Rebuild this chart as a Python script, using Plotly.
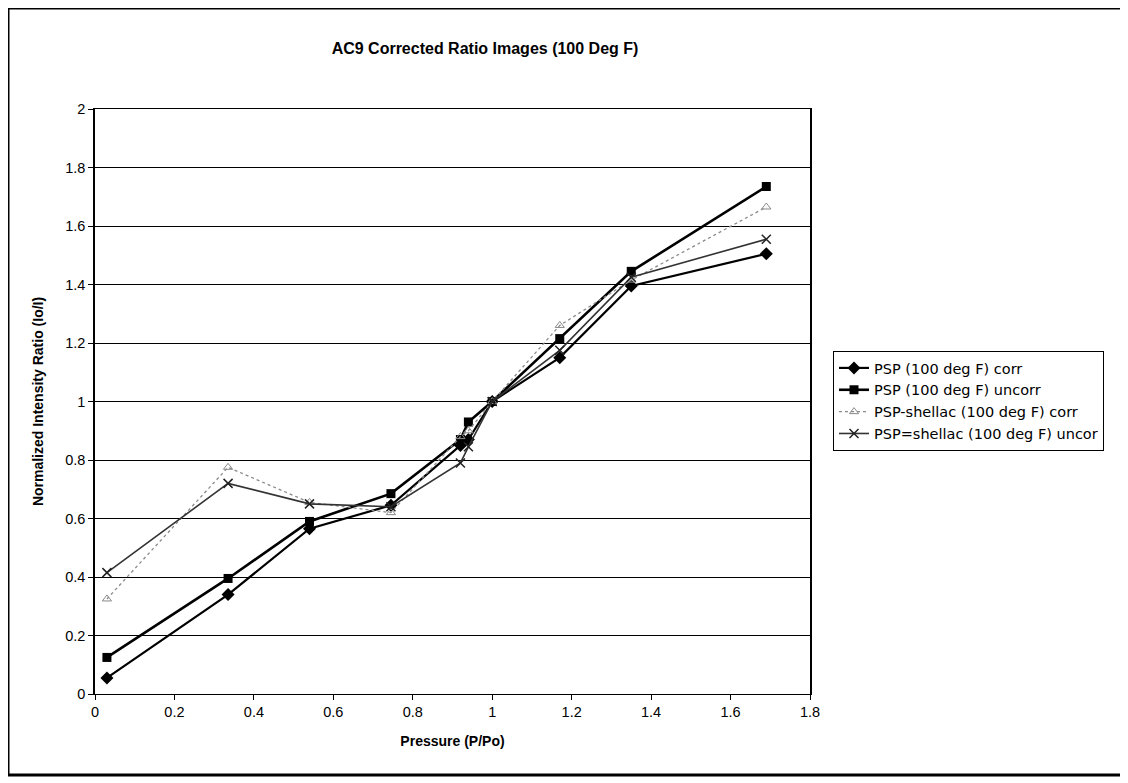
import plotly.graph_objects as go

pressure = [0.03, 0.335, 0.54, 0.745, 0.92, 0.94, 1.0, 1.17, 1.35, 1.69]
psp_corr = [0.055, 0.34, 0.565, 0.645, 0.85, 0.87, 1.0, 1.15, 1.395, 1.505]
psp_uncorr = [0.125, 0.395, 0.59, 0.685, 0.87, 0.93, 1.0, 1.215, 1.445, 1.735]
shellac_corr = [0.325, 0.775, 0.655, 0.62, 0.88, 0.9, 1.0, 1.26, 1.415, 1.665]
shellac_uncor = [0.415, 0.72, 0.65, 0.64, 0.79, 0.845, 1.0, 1.175, 1.425, 1.555]
x_ticks = [0, 0.2, 0.4, 0.6, 0.8, 1, 1.2, 1.4, 1.6, 1.8]
y_ticks = [0, 0.2, 0.4, 0.6, 0.8, 1, 1.2, 1.4, 1.6, 1.8, 2]

FONT = "Liberation Sans, Arial, sans-serif"
OFF = 8  # page body margin
W, H = 1128 - OFF, 783 - OFF
# plot area in page pixels
L, R, T, B = 95, 810, 109, 694

fig = go.Figure()
fig.add_trace(go.Scatter(x=pressure, y=psp_corr, name="PSP (100 deg F) corr", mode="lines+markers",
                         line=dict(color="black", width=2.2),
                         marker=dict(symbol="diamond", size=10, color="black")))
fig.add_trace(go.Scatter(x=pressure, y=psp_uncorr, name="PSP (100 deg F) uncorr", mode="lines+markers",
                         line=dict(color="black", width=2.6),
                         marker=dict(symbol="square", size=9, color="black")))
fig.add_trace(go.Scatter(x=pressure, y=shellac_corr, name="PSP-shellac (100 deg F) corr", mode="lines+markers",
                         line=dict(color="#8a8a8a", width=1.3, dash="dot"),
                         marker=dict(symbol="triangle-up-open", size=8, color="#8a8a8a", line=dict(width=1))))
fig.add_trace(go.Scatter(x=pressure, y=shellac_uncor, name="PSP=shellac (100 deg F) uncor", mode="lines+markers",
                         line=dict(color="#333333", width=1.6),
                         marker=dict(symbol="x-thin-open", size=9, color="#222222", line=dict(width=1.5, color="#222222"))))

px2x = lambda p: (p - L) / (R - L)
px2y = lambda p: (B - p) / (B - T)

fig.add_shape(type="rect", xref="paper", yref="paper",
              x0=px2x(8), x1=px2x(1124), y0=px2y(775), y1=px2y(8),
              line=dict(color="black", width=3), fillcolor="rgba(0,0,0,0)", layer="below")

fig.update_layout(
    width=W, height=H,
    margin=dict(l=L - OFF, r=W - (R - OFF), t=T - OFF, b=H - (B - OFF)),
    paper_bgcolor="white", plot_bgcolor="white",
    font=dict(family=FONT, size=14, color="black"),
    title=dict(text="<b>AC9 Corrected Ratio Images (100 Deg F)</b>", x=(485 - OFF) / W, xanchor="center",
               y=1 - (48 - OFF) / H, yanchor="middle", font=dict(size=16, family=FONT)),
    xaxis=dict(range=[0, 1.8], tickvals=x_ticks, ticktext=[f"{v:g}" for v in x_ticks],
               showgrid=False, zeroline=False, showline=True, linecolor="black", linewidth=1, mirror=True,
               ticks="outside", ticklen=5, tickcolor="black", tickfont=dict(size=14.5),
               title=dict(text="<b>Pressure (P/Po)</b>", font=dict(size=14), standoff=16)),
    yaxis=dict(range=[0, 2], tickvals=y_ticks, ticktext=[f"{v:g}" for v in y_ticks],
               showgrid=True, gridcolor="black", gridwidth=1.3, zeroline=False,
               showline=True, linecolor="black", linewidth=1.5, mirror=True,
               ticks="outside", ticklen=5, tickcolor="black", tickfont=dict(size=14.5),
               title=dict(text="<b>Normalized Intensity Ratio (Io/I)</b>", font=dict(size=14), standoff=18)),
    legend=dict(x=px2x(833), y=px2y(351), xanchor="left", yanchor="top",
                bordercolor="black", borderwidth=1, bgcolor="white",
                font=dict(size=14.5, family="DejaVu Sans, sans-serif"), tracegroupgap=0, itemwidth=30),
    showlegend=True,
)

fig.write_html("out.html")
